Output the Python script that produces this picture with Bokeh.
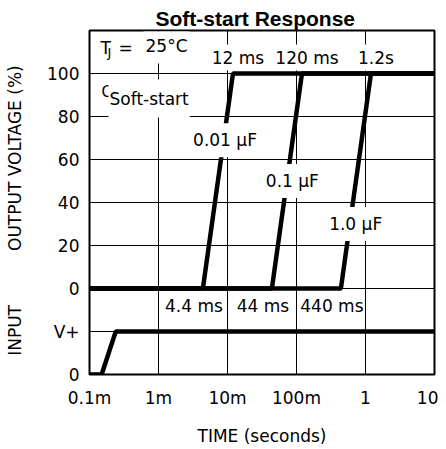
import math
from bokeh.plotting import figure
from bokeh.models import Label, FixedTicker
from bokeh.embed import file_html
from bokeh.resources import INLINE

# ---------------- data ----------------
x_ticks = [1e-4, 1e-3, 1e-2, 1e-1, 1, 10]
x_tick_labels = ["0.1m", "1m", "10m", "100m", "1", "10"]
y_ticks = [-40, -20, 0, 20, 40, 60, 80, 100, 120]
y_tick_labels = ["0", "V+", "0", "20", "40", "60", "80", "100", ""]

# input step (shared vertical scale: -40 = input 0, -20 = V+)
input_t = [1e-4, 1.5e-4, 2.4e-4, 10]
input_v = [-40, -40, -20, -20]

# soft-start ramps (output %)
cap_names = ["0.01 μF", "0.1 μF", "1.0 μF"]
start_t = [4.4e-3, 44e-3, 440e-3]
end_t = [12e-3, 120e-3, 1.2]
start_names = ["4.4 ms", "44 ms", "440 ms"]
end_names = ["12 ms", "120 ms", "1.2s"]
out_low = 0
out_high = 100
cap_label_t = [9.2e-3, 87e-3, 0.72]
cap_label_v = [69, 50, 30]

FONT = "DejaVu Sans"
FS = "17px"
NB = "\u00a0"

p = figure(width=438, height=449, x_axis_type="log",
           x_range=(x_ticks[0], x_ticks[-1]), y_range=(y_ticks[0], y_ticks[-1]),
           output_backend="svg", toolbar_location=None,
           min_border_left=89, min_border_right=4, min_border_top=30,
           min_border_bottom=75)

p.title.text = "Soft-start Response"
p.title.text_font = "Liberation Sans"
p.title.text_font_style = "bold"
p.title.text_font_size = "21px"
p.title.text_color = "black"
p.title.align = "left"
p.title.offset = 66
p.title.standoff = 1

p.xaxis.ticker = FixedTicker(ticks=x_ticks)
p.xaxis.major_label_overrides = dict(zip(x_ticks, x_tick_labels))
p.yaxis.ticker = FixedTicker(ticks=y_ticks)
p.yaxis.major_label_overrides = dict(zip(y_ticks, y_tick_labels))
for ax in (p.xaxis, p.yaxis):
    ax.axis_line_color = None
    ax.major_tick_line_color = None
    ax.minor_tick_line_color = None
    ax.major_tick_out = 0
    ax.major_tick_in = 0
    ax.minor_tick_out = 0
    ax.minor_tick_in = 0
    ax.major_label_text_font = FONT
    ax.major_label_text_font_size = FS
    ax.major_label_text_color = "black"
    ax.axis_label_text_font = FONT
    ax.axis_label_text_font_size = FS
    ax.axis_label_text_font_style = "normal"
    ax.axis_label_text_color = "black"
p.xaxis.major_label_standoff = 13
p.yaxis.major_label_standoff = 10
p.xaxis.axis_label = "TIME (seconds)"
p.xaxis.axis_label_standoff = 15
p.yaxis.axis_label = "INPUT" + NB * 10 + "OUTPUT VOLTAGE (%)" + NB * 3
p.yaxis.axis_label_standoff = 19

for g in (p.xgrid, p.ygrid):
    g.grid_line_color = "black"
    g.grid_line_width = 1
    g.grid_line_alpha = 1
p.outline_line_color = "black"
p.outline_line_width = 2
p.background_fill_color = "white"
p.border_fill_color = "white"

LW = 4.5
p.line(input_t, input_v, line_width=LW, line_color="black")
for s, e in zip(start_t, end_t):
    p.line([x_ticks[0], s, e, x_ticks[-1]], [out_low, out_low, out_high, out_high],
           line_width=LW, line_color="black")


def lab(text, x, y, xu="data", yu="data", size=FS, align="center", base="middle",
        bg=False, pad=None, font=FONT, xo=0, yo=0):
    kw = {}
    if bg:
        kw["background_fill_color"] = "white"
        kw["background_fill_alpha"] = 1.0
        if pad is not None:
            kw["padding"] = pad
    L = Label(x=x, y=y, x_units=xu, y_units=yu, text=text, text_font=font,
              text_font_size=size, text_align=align, text_baseline=base,
              text_color="black", x_offset=xo, y_offset=yo, **kw)
    p.add_layout(L)


# capacitor labels (white boxes break the lines behind them)
for t, v, name in zip(cap_label_t, cap_label_v, cap_names):
    lab(name, t, v, bg=True, pad=dict(left=2, right=2, top=7, bottom=7))

# end-time labels (top row)
for t, name in zip(end_t, end_names):
    lab(name, t, 107.4, bg=True, pad=dict(left=1, right=1, top=3, bottom=3), xo=5)

# start-time labels (between output 0 and V+)
for t, name in zip(start_t, start_names):
    lab(name, t, -8, xo=-9)

# T_J = 25°C
lab("T", 11, 327, xu="screen", yu="screen", align="left", base="alphabetic")
lab("J", 18, 322, xu="screen", yu="screen", size="13px", align="left", base="alphabetic")
lab("=", 29, 327, xu="screen", yu="screen", align="left", base="alphabetic")
lab("25°C", 54, 327, xu="screen", yu="screen", align="left", base="alphabetic", bg=True,
    pad=dict(left=2, right=2, top=4, bottom=8))

# C_Soft-start
lab("C", 12, 283, xu="screen", yu="screen", size="15px", align="left", base="alphabetic")
lab("Soft-start", 19, 276, xu="screen", yu="screen", align="left", base="alphabetic",
    bg=True, pad=dict(left=1, right=1, top=9, bottom=9))

open("out.html", "w").write(file_html(p, INLINE))
